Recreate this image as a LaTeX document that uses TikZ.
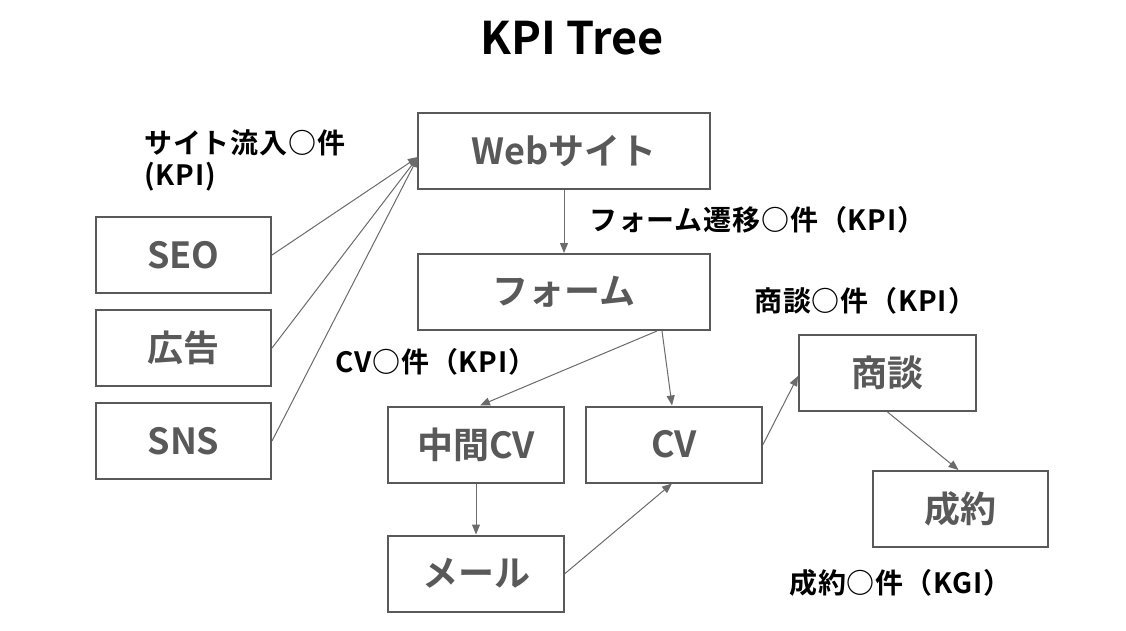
\documentclass[tikz,border=0pt]{standalone}
\usepackage{fontspec}
\setmainfont{Noto Sans CJK JP}[BoldFont={Noto Sans CJK JP Bold}]
\newfontfamily\klabelfont{Noto Sans CJK JP Bold}[LetterSpace=3]
\usetikzlibrary{arrows.meta,calc}
\definecolor{boxgray}{HTML}{595959}
\definecolor{linegray}{HTML}{6B6B6B}
\tikzset{
  kbox/.style={draw=boxgray, line width=2pt, text=boxgray, inner sep=0pt,
    font=\bfseries\fontsize{36}{36}\selectfont, minimum height=76pt},
  klabel/.style={text=black, inner sep=0pt, anchor=west, align=left,
    font=\klabelfont\fontsize{28}{32}\selectfont},
  karrow/.style={draw=linegray, line width=1pt, -{Triangle[length=10pt,width=8pt]}},
}
\begin{document}
\begin{tikzpicture}[x=1pt,y=-1pt]
\useasboundingbox[fill=white] (0,0) rectangle (1126,631);
\node[inner sep=0pt, font=\bfseries\fontsize{45}{45}\selectfont] (title) at (572,38) {KPI Tree};

\node[kbox, minimum width=292pt] (web) at (564,151) {Webサイト};
\node[kbox, minimum width=292pt] (form) at (564,292) {フォーム};
\node[kbox, minimum width=175pt] (seo) at (183.5,255) {SEO};
\node[kbox, minimum width=175pt] (ad) at (183.5,348) {広告};
\node[kbox, minimum width=175pt] (sns) at (183.5,441) {SNS};
\node[kbox, minimum width=176pt] (mid) at (476,444.5) {中間CV};
\node[kbox, minimum width=176pt] (cv) at (674,444.5) {CV};
\node[kbox, minimum width=176pt] (mail) at (476,573.5) {メール};
\node[kbox, minimum width=177pt] (deal) at (887.5,373) {商談};
\node[kbox, minimum width=175pt] (close) at (960.5,509) {成約};

\node[klabel] (l1) at (144,160) {サイト流入○件\\(KPI)};
\node[klabel] (l2) at (589,220) {フォーム遷移○件（KPI）};
\node[klabel] (l3) at (754,301) {商談○件（KPI）};
\node[klabel] (l4) at (335,362) {CV○件（KPI）};
\node[klabel] (l5) at (789,583) {成約○件（KGI）};

\coordinate (hub) at (418,157);
\draw[karrow] (seo.east) -- (hub);
\draw[karrow] (ad.east) -- (hub);
\draw[karrow] (sns.east) -- (hub);
\draw[karrow] (web.south) -- (form.north);
\draw[karrow] ($(form.south)+(93,0)$) -- ($(mid.north)+(4,0)$);
\draw[karrow] ($(form.south)+(98,0)$) -- ($(cv.north)+(-2,0)$);
\draw[karrow] (mid.south) -- (mail.north);
\draw[karrow] (mail.east) -- ($(cv.south)+(-2,0)$);
\draw[karrow] (cv.east) -- ($(deal.west)+(0,3)$);
\draw[karrow] ($(deal.south)+(0,0)$) -- ($(close.north)+(-2,0)$);
\end{tikzpicture}
\end{document}
